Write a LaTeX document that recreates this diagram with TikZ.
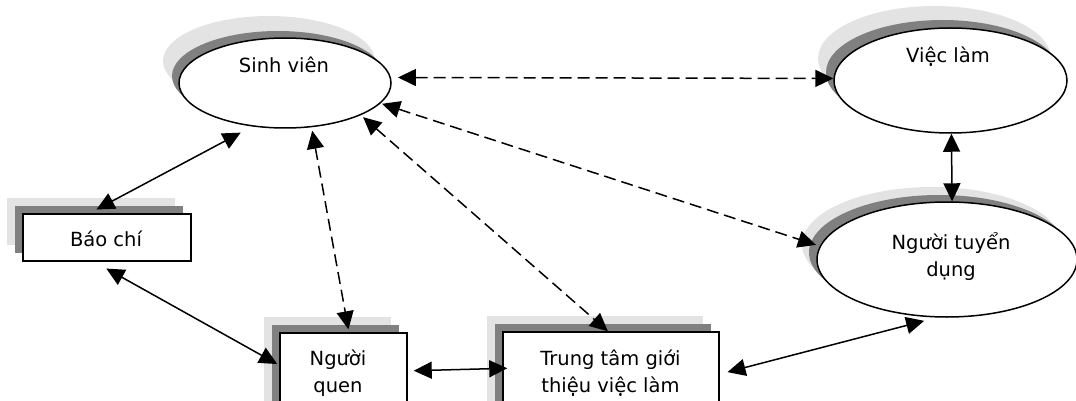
\documentclass[tikz,border=0pt]{standalone}
\usepackage{fontspec}
\setmainfont{DejaVu Sans}
\usetikzlibrary{arrows.meta,shapes.geometric,shadows}
\definecolor{shdark}{HTML}{808080}
\definecolor{shlight}{HTML}{E3E3E3}
\tikzset{
  lbl/.style={font=\fontsize{19.5}{27}\selectfont, align=center, inner sep=0pt, anchor=base},
  shadowed/.style n args={4}{
    copy shadow={shadow xshift=-#3pt, shadow yshift=#4pt, fill=shlight, draw=none},
    copy shadow={shadow xshift=-#1pt, shadow yshift=#2pt, fill=shdark, draw=none}},
  oval/.style={ellipse, draw=black, line width=1.5pt, fill=white, inner sep=0pt},
  box/.style={rectangle, draw=black, line width=1.5pt, fill=white, inner sep=0pt, shadowed={8}{8}{16}{16}},
  solarr/.style={line width=1.5pt, {Triangle[length=18pt,width=17pt]}-{Triangle[length=18pt,width=17pt]}},
  dsharr/.style={solarr, dash pattern=on 12pt off 6pt}
}
\begin{document}
\begin{tikzpicture}[x=1pt,y=-1pt]
\useasboundingbox (0,0) rectangle (1076,401);
\clip (0,0) rectangle (1076,401);
% nodes
\node[oval, shadowed={7}{7}{16}{22}, minimum width=212pt, minimum height=90pt] (sv) at (285,83) {};
\node[oval, shadowed={8}{8}{16}{22}, minimum width=233pt, minimum height=105pt] (vl) at (950.5,80.5) {};
\node[oval, shadowed={8}{7}{15}{15}, minimum width=260pt, minimum height=115pt] (ntd) at (947,259.5) {};
\node[box, minimum width=168pt, minimum height=47pt] (bc) at (107,237.5) {};
\node[box, minimum width=127pt, minimum height=87pt] (nq) at (343.5,376.5) {};
\node[box, minimum width=216pt, minimum height=88pt] (tt) at (611,376) {};
% texts
\node[lbl] (svt) at (284,73) {Sinh viên};
\node[lbl] (vlt) at (948,63) {Việc làm};
\node[lbl] (ntdt) at (951,276) {Người tuyển\\dụng};
\node[lbl] (bct) at (106,246) {Báo chí};
\node[lbl] (nqt) at (338,392) {Người\\quen};
\node[lbl] (ttt) at (610.5,392) {Trung tâm giới\\thiệu việc làm};
% connectors
\draw[dsharr, shorten <=7pt] (sv.3) -- (vl.179);
\draw[solarr, shorten <=13pt, shorten >=8pt] (sv.233) -- (bc.126.5);
\draw[dsharr, shorten <=3.5pt, shorten >=3pt] (sv.301) -- (nq.83.4);
\draw[dsharr, shorten <=3pt] (sv.337) -- (tt.94);
\draw[dsharr, shorten <=1.5pt, shorten >=4pt] (sv.348.5) -- (ntd.174);
\draw[solarr] (vl.271.6) -- (ntd.85);
\draw[solarr, shorten <=14pt, shorten >=2.3pt] (bc.242) -- (nq.170.7);
\draw[solarr, shorten <=6pt, shorten >=-5pt] (nq.5.8) -- (tt.176.8);
\draw[solarr, shorten <=8pt, shorten >=13pt] (tt.1.6) -- (ntd.260.7);
\end{tikzpicture}
\end{document}
